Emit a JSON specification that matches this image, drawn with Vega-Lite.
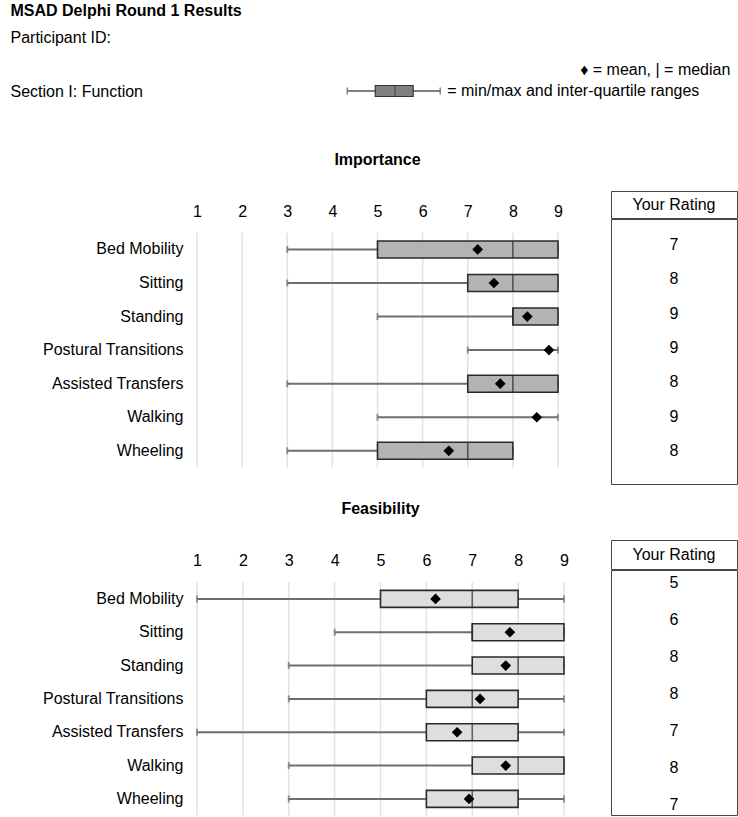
{
  "$schema": "https://vega.github.io/schema/vega-lite/v6.json",
  "padding": {"left": 10, "top": 2, "right": 0, "bottom": 0},
  "config": {
    "view": {"stroke": null},
    "font": "Liberation Sans",
    "text": {"font": "Liberation Sans", "fontSize": 16, "color": "#000"},
    "title": {"font": "Liberation Sans", "fontSize": 16, "fontWeight": "bold", "color": "#000", "offset": 23}
  },
  "datasets": {
    "grid": [{"v": 1}, {"v": 2}, {"v": 3}, {"v": 4}, {"v": 5}, {"v": 6}, {"v": 7}, {"v": 8}, {"v": 9}],
    "importance": [
      {"activity": "Bed Mobility", "min": 3, "q1": 5, "median": 8, "q3": 9, "max": 9, "mean": 7.22, "rating": 7},
      {"activity": "Sitting", "min": 3, "q1": 7, "median": 8, "q3": 9, "max": 9, "mean": 7.58, "rating": 8},
      {"activity": "Standing", "min": 5, "q1": 8, "median": 8, "q3": 9, "max": 9, "mean": 8.32, "rating": 9},
      {"activity": "Postural Transitions", "min": 7, "q1": 9, "median": 9, "q3": 9, "max": 9, "mean": 8.8, "rating": 9},
      {"activity": "Assisted Transfers", "min": 3, "q1": 7, "median": 8, "q3": 9, "max": 9, "mean": 7.72, "rating": 8},
      {"activity": "Walking", "min": 5, "q1": 9, "median": 9, "q3": 9, "max": 9, "mean": 8.53, "rating": 9},
      {"activity": "Wheeling", "min": 3, "q1": 5, "median": 7, "q3": 8, "max": 8, "mean": 6.58, "rating": 8}
    ],
    "feasibility": [
      {"activity": "Bed Mobility", "min": 1, "q1": 5, "median": 7, "q3": 8, "max": 9, "mean": 6.2, "rating": 5},
      {"activity": "Sitting", "min": 4, "q1": 7, "median": 7, "q3": 9, "max": 9, "mean": 7.82, "rating": 6},
      {"activity": "Standing", "min": 3, "q1": 7, "median": 8, "q3": 9, "max": 9, "mean": 7.73, "rating": 8},
      {"activity": "Postural Transitions", "min": 3, "q1": 6, "median": 7, "q3": 8, "max": 9, "mean": 7.17, "rating": 8},
      {"activity": "Assisted Transfers", "min": 1, "q1": 6, "median": 7, "q3": 8, "max": 9, "mean": 6.67, "rating": 7},
      {"activity": "Walking", "min": 3, "q1": 7, "median": 8, "q3": 9, "max": 9, "mean": 7.73, "rating": 8},
      {"activity": "Wheeling", "min": 3, "q1": 6, "median": 7, "q3": 8, "max": 9, "mean": 6.93, "rating": 7}
    ]
  },
  "spacing": 53,
  "vconcat": [
    {
      "width": 361,
      "height": 81,
      "layer": [
        {
          "data": {"values": [{"line": "Section I: Function", "min": 4.33, "q1": 4.95, "median": 5.39, "q3": 5.79, "max": 6.39}]},
          "mark": {"type": "rule", "color": "#555", "strokeWidth": 1.5},
          "encoding": {
            "x": {"field": "min", "type": "quantitative", "scale": {"domain": [1, 9], "nice": false, "zero": false}, "axis": null},
            "x2": {"field": "max"},
            "y": {
              "field": "line", "type": "nominal",
              "scale": {"type": "point", "domain": ["MSAD Delphi Round 1 Results", "Participant ID:", " ", "Section I: Function"], "padding": 0},
              "axis": {
                "orient": "left", "ticks": false, "tickSize": 0, "domain": false, "grid": false, "title": null,
                "labelAlign": "left", "labelPadding": 187, "labelFontSize": 16, "labelLimit": 0,
                "labelColor": "#000", "labelFont": "Liberation Sans",
                "labelFontWeight": {"condition": {"test": "datum.value === 'MSAD Delphi Round 1 Results'", "value": "bold"}, "value": "normal"}
              }
            }
          }
        },
        {
          "data": {"values": [{"line": "Section I: Function", "min": 4.33, "q1": 4.95, "median": 5.39, "q3": 5.79, "max": 6.39}]},
          "mark": {"type": "tick", "color": "#555", "thickness": 1.5, "size": 7},
          "encoding": {"x": {"field": "min", "type": "quantitative"}, "y": {"field": "line", "type": "nominal"}}
        },
        {
          "data": {"values": [{"line": "Section I: Function", "min": 4.33, "q1": 4.95, "median": 5.39, "q3": 5.79, "max": 6.39}]},
          "mark": {"type": "tick", "color": "#555", "thickness": 1.5, "size": 7},
          "encoding": {"x": {"field": "max", "type": "quantitative"}, "y": {"field": "line", "type": "nominal"}}
        },
        {
          "data": {"values": [{"line": "Section I: Function", "min": 4.33, "q1": 4.95, "median": 5.39, "q3": 5.79, "max": 6.39}]},
          "mark": {"type": "bar", "size": 11, "fill": "#808080", "stroke": "#333", "strokeWidth": 1.2},
          "encoding": {"x": {"field": "q1", "type": "quantitative"}, "x2": {"field": "q3"}, "y": {"field": "line", "type": "nominal"}}
        },
        {
          "data": {"values": [{"line": "Section I: Function", "min": 4.33, "q1": 4.95, "median": 5.39, "q3": 5.79, "max": 6.39}]},
          "mark": {"type": "tick", "color": "#333", "thickness": 1.2, "size": 11},
          "encoding": {"x": {"field": "median", "type": "quantitative"}, "y": {"field": "line", "type": "nominal"}}
        },
        {
          "data": {"values": [{"line": "Section I: Function", "max": 6.39, "t": "= min/max and inter-quartile ranges"}]},
          "mark": {"type": "text", "align": "left", "dx": 7, "fontSize": 16},
          "encoding": {"x": {"field": "max", "type": "quantitative"}, "y": {"field": "line", "type": "nominal"}, "text": {"field": "t"}}
        },
        {
          "data": {"values": [{"line": " ", "t": "♦ = mean, | = median"}]},
          "mark": {"type": "text", "align": "right", "dy": 6, "fontSize": 16},
          "encoding": {"x": {"datum": 12.82, "type": "quantitative"}, "y": {"field": "line", "type": "nominal"}, "text": {"field": "t"}}
        }
      ]
    },
    {
      "spacing": 16,
      "vconcat": [
        {
          "spacing": 47,
          "hconcat": [
            {
              "width": 361,
              "height": 292,
              "title": {"text": "Importance"},
              "layer": [
                {
                  "data": {"name": "grid"},
                  "mark": {"type": "rule", "color": "#e2e2e2", "strokeWidth": 1.5},
                  "encoding": {
                    "x": {"field": "v", "type": "quantitative", "scale": {"domain": [1, 9], "nice": false, "zero": false},
                      "axis": {"orient": "top", "offset": -30, "labelPadding": 2, "ticks": false, "tickSize": 0, "domain": false, "grid": false, "title": null, "labelFlush": false,
                        "values": [1, 2, 3, 4, 5, 6, 7, 8, 9], "format": "d", "labelFontSize": 16, "labelColor": "#000", "labelFont": "Liberation Sans"}},
                    "y": {"datum": "Bed Mobility", "type": "nominal", "bandPosition": 0,
                      "scale": {"type": "band", "domain": ["Bed Mobility", "Sitting", "Standing", "Postural Transitions", "Assisted Transfers", "Walking", "Wheeling"], "paddingInner": 0, "paddingOuter": 0.85, "align": 0.73},
                      "axis": {"orient": "left", "ticks": false, "tickSize": 0, "domain": false, "grid": false, "title": null, "labelPadding": 14, "labelFontSize": 16, "labelColor": "#000", "labelFont": "Liberation Sans", "labelLimit": 0}},
                    "y2": {"datum": "Wheeling", "bandPosition": 1}
                  }
                },
                {
                  "data": {"name": "importance"},
                  "mark": {"type": "rule", "color": "#6e6e6e", "strokeWidth": 2},
                  "encoding": {"x": {"field": "min", "type": "quantitative"}, "x2": {"field": "max"}, "y": {"field": "activity", "type": "nominal"}}
                },
                {
                  "data": {"name": "importance"},
                  "mark": {"type": "tick", "color": "#6e6e6e", "thickness": 2, "size": 7},
                  "encoding": {"x": {"field": "min", "type": "quantitative"}, "y": {"field": "activity", "type": "nominal"}}
                },
                {
                  "data": {"name": "importance"},
                  "mark": {"type": "tick", "color": "#6e6e6e", "thickness": 2, "size": 7},
                  "encoding": {"x": {"field": "max", "type": "quantitative"}, "y": {"field": "activity", "type": "nominal"}}
                },
                {
                  "data": {"name": "importance"},
                  "transform": [{"filter": "datum.q3 > datum.q1"}],
                  "mark": {"type": "bar", "size": 17, "fill": "#b3b3b3", "stroke": "#2a2a2a", "strokeWidth": 1.6},
                  "encoding": {"x": {"field": "q1", "type": "quantitative"}, "x2": {"field": "q3"}, "y": {"field": "activity", "type": "nominal"}}
                },
                {
                  "data": {"name": "importance"},
                  "transform": [{"filter": "datum.q3 > datum.q1"}],
                  "mark": {"type": "tick", "color": "#2a2a2a", "thickness": 1.6, "size": 17},
                  "encoding": {"x": {"field": "median", "type": "quantitative"}, "y": {"field": "activity", "type": "nominal"}}
                },
                {
                  "data": {"name": "importance"},
                  "mark": {"type": "point", "shape": "diamond", "filled": true, "color": "#000", "size": 115, "opacity": 1},
                  "encoding": {"x": {"field": "mean", "type": "quantitative"}, "y": {"field": "activity", "type": "nominal"}}
                }
              ]
            },
            {
              "spacing": -2,
              "vconcat": [
                {
                  "width": 126, "height": 27,
                  "view": {"stroke": "#444", "strokeWidth": 1},
                  "data": {"values": [{"h": "Your Rating"}]},
                  "mark": {"type": "text", "fontSize": 16},
                  "encoding": {"text": {"field": "h"}}
                },
                {
                  "width": 126, "height": 265,
                  "view": {"stroke": "#444", "strokeWidth": 1},
                  "data": {"name": "importance"},
                  "mark": {"type": "text", "fontSize": 16},
                  "encoding": {
                    "y": {"field": "activity", "type": "nominal", "axis": null,
                      "scale": {"type": "point", "domain": ["Bed Mobility", "Sitting", "Standing", "Postural Transitions", "Assisted Transfers", "Walking", "Wheeling"], "padding": 0.863, "align": 0.44}},
                    "text": {"field": "rating"}
                  }
                }
              ]
            }
          ]
        },
        {
          "spacing": 41,
          "hconcat": [
            {
              "width": 367,
              "height": 276,
              "title": {"text": "Feasibility"},
              "layer": [
                {
                  "data": {"name": "grid"},
                  "mark": {"type": "rule", "color": "#e2e2e2", "strokeWidth": 1.5},
                  "encoding": {
                    "x": {"field": "v", "type": "quantitative", "scale": {"domain": [1, 9], "nice": false, "zero": false},
                      "axis": {"orient": "top", "offset": -30, "labelPadding": 2, "ticks": false, "tickSize": 0, "domain": false, "grid": false, "title": null, "labelFlush": false,
                        "values": [1, 2, 3, 4, 5, 6, 7, 8, 9], "format": "d", "labelFontSize": 16, "labelColor": "#000", "labelFont": "Liberation Sans"}},
                    "y": {"datum": "Bed Mobility", "type": "nominal", "bandPosition": 0,
                      "scale": {"type": "band", "domain": ["Bed Mobility", "Sitting", "Standing", "Postural Transitions", "Assisted Transfers", "Walking", "Wheeling"], "paddingInner": 0, "paddingOuter": 0.64, "align": 0.99},
                      "axis": {"orient": "left", "ticks": false, "tickSize": 0, "domain": false, "grid": false, "title": null, "labelPadding": 14, "labelFontSize": 16, "labelColor": "#000", "labelFont": "Liberation Sans", "labelLimit": 0}},
                    "y2": {"datum": "Wheeling", "bandPosition": 1}
                  }
                },
                {
                  "data": {"name": "feasibility"},
                  "mark": {"type": "rule", "color": "#6e6e6e", "strokeWidth": 2},
                  "encoding": {"x": {"field": "min", "type": "quantitative"}, "x2": {"field": "max"}, "y": {"field": "activity", "type": "nominal"}}
                },
                {
                  "data": {"name": "feasibility"},
                  "mark": {"type": "tick", "color": "#6e6e6e", "thickness": 2, "size": 7},
                  "encoding": {"x": {"field": "min", "type": "quantitative"}, "y": {"field": "activity", "type": "nominal"}}
                },
                {
                  "data": {"name": "feasibility"},
                  "mark": {"type": "tick", "color": "#6e6e6e", "thickness": 2, "size": 7},
                  "encoding": {"x": {"field": "max", "type": "quantitative"}, "y": {"field": "activity", "type": "nominal"}}
                },
                {
                  "data": {"name": "feasibility"},
                  "transform": [{"filter": "datum.q3 > datum.q1"}],
                  "mark": {"type": "bar", "size": 17, "fill": "#dedede", "stroke": "#2a2a2a", "strokeWidth": 1.6},
                  "encoding": {"x": {"field": "q1", "type": "quantitative"}, "x2": {"field": "q3"}, "y": {"field": "activity", "type": "nominal"}}
                },
                {
                  "data": {"name": "feasibility"},
                  "transform": [{"filter": "datum.q3 > datum.q1"}],
                  "mark": {"type": "tick", "color": "#2a2a2a", "thickness": 1.6, "size": 17},
                  "encoding": {"x": {"field": "median", "type": "quantitative"}, "y": {"field": "activity", "type": "nominal"}}
                },
                {
                  "data": {"name": "feasibility"},
                  "mark": {"type": "point", "shape": "diamond", "filled": true, "color": "#000", "size": 115, "opacity": 1},
                  "encoding": {"x": {"field": "mean", "type": "quantitative"}, "y": {"field": "activity", "type": "nominal"}}
                }
              ]
            },
            {
              "spacing": -2,
              "vconcat": [
                {
                  "width": 126, "height": 29,
                  "view": {"stroke": "#444", "strokeWidth": 1},
                  "data": {"values": [{"h": "Your Rating"}]},
                  "mark": {"type": "text", "fontSize": 16},
                  "encoding": {"text": {"field": "h"}}
                },
                {
                  "width": 126, "height": 245,
                  "view": {"stroke": "#444", "strokeWidth": 1},
                  "data": {"name": "feasibility"},
                  "mark": {"type": "text", "fontSize": 16},
                  "encoding": {
                    "y": {"field": "activity", "type": "nominal", "axis": null,
                      "scale": {"type": "point", "domain": ["Bed Mobility", "Sitting", "Standing", "Postural Transitions", "Assisted Transfers", "Walking", "Wheeling"], "padding": 0.31, "align": 0.56}},
                    "text": {"field": "rating"}
                  }
                }
              ]
            }
          ]
        }
      ]
    }
  ]
}
